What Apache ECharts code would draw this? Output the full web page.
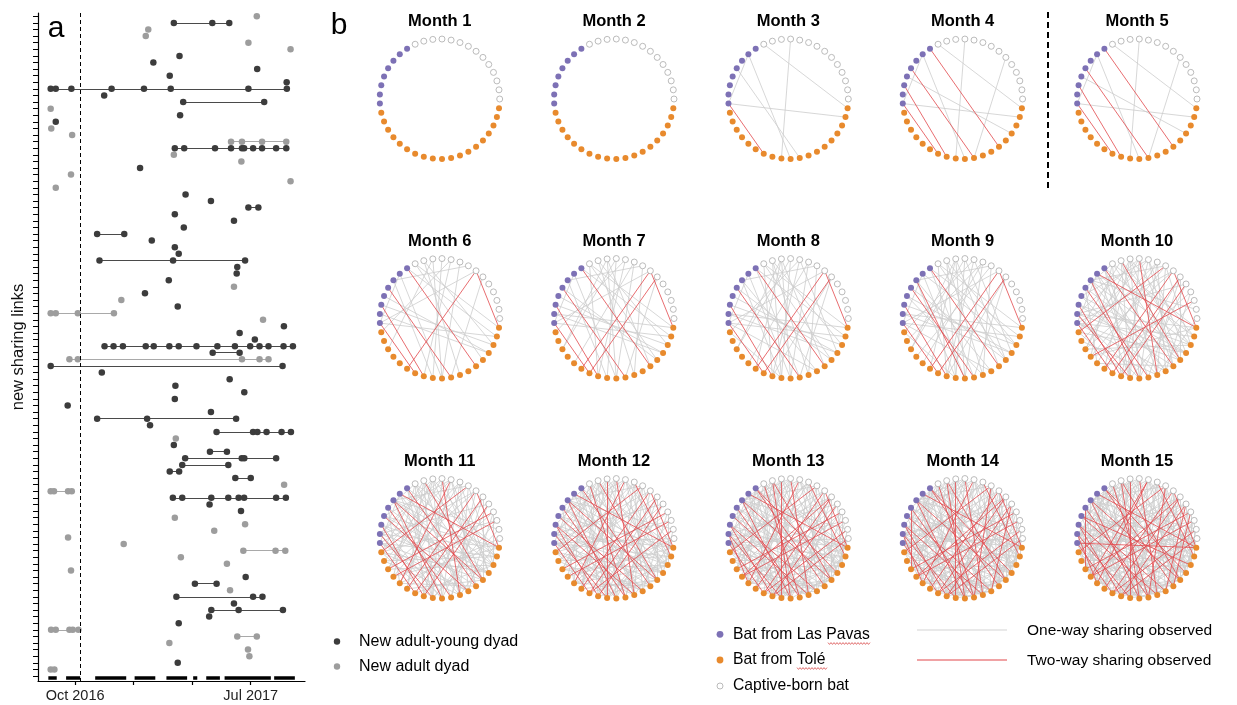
<!DOCTYPE html>
<html><head><meta charset="utf-8">
<script src="https://cdn.jsdelivr.net/npm/echarts@6/dist/echarts.min.js"></script>
<style>html,body{margin:0;padding:0;background:#fff}#c{width:1237px;height:705px}</style>
</head><body><div id="c"></div>
<script>
// ---------------- Panel a data ----------------
// months counted from Jan 2016 (9 = 1 Oct 2016, 18 = 1 Jul 2017)
const dyadType = [
 'A','Y','A','A','A','A','Y','Y','Y','Y',
 'Y','Y','Y','Y','A','Y','Y','A','A','A',
 'Y','A','A','Y','A','A','A','Y','Y','Y',
 'Y','Y','Y','Y','Y','Y','Y','Y','Y','Y',
 'Y','A','Y','A','Y','A','A','Y','Y','Y',
 'Y','Y','A','Y','Y','Y','Y','Y','Y','Y',
 'Y','Y','Y','Y','A','Y','Y','Y','Y','Y',
 'Y','A','A','Y','Y','Y','A','A','A','A',
 'A','A','A','A','A','Y','Y','A','Y','Y',
 'Y','Y','Y','A','A','A','A','A','Y','A'
];
const dyadTimes = [
 [18.31],[14.06,16.03,16.90],[12.75],[12.62],[17.88],[20.04],[14.35],[13.01],[18.33],[13.85],
 [19.84],[7.75,8.01,8.81,10.87,12.53,13.90,17.88,19.85],[10.49],[14.54,18.69],[7.75],[14.38],[8.01],[7.78],[8.85],[16.99,17.55,18.58,19.82],
 [14.11,14.59,16.17,16.99,17.55,17.66,18.12,18.58,19.30,19.82],[14.06],[17.52],[12.33],[8.79],[20.04],[8.01],[14.66],[15.96],[17.88,18.39],
 [14.11],[17.14],[14.57],[10.13,11.52],[12.93],[14.11],[14.31],[10.25,14.02,17.71],[17.31],[17.28],
 [13.80],[17.14],[12.58],[11.37],[14.26],[7.75,8.01,9.14,10.99],[18.63],[19.70],[17.43],[18.21],
 [10.51,10.97,11.45,12.62,13.03,13.83,14.31,15.22,16.29,17.19,17.97,18.45,18.91,19.68,20.16],[16.05,17.43],[8.71,9.14,17.55,18.45,18.91],[7.75,19.63],[10.37],[16.92],[14.14],[17.67],[14.11],[8.62],
 [15.96],[10.13,12.69,17.25],[12.84],[16.25,18.12,18.34,18.81,19.58,20.06],[14.16],[14.06],[15.91,16.78],[14.64,17.54,17.67,19.30],[14.49,16.85],[13.85,14.33],
 [17.21,18.00],[19.71],[7.75,7.92,8.64,8.83],[14.01,14.49,15.98,16.85,17.38,17.66,19.30,19.80],[15.89],[17.50],[14.11],[17.71],[16.13],[8.64],
 [11.49],[17.62,19.27,19.77],[14.42],[16.78],[8.79],[17.74],[15.14,16.25],[16.94],[14.19,18.12,18.60],[17.14],
 [15.98,17.38,19.65],[15.87],[14.31],[7.77,8.01,8.71,8.88,9.17],[17.31,18.31],[13.83],[17.86],[17.93],[14.26],[7.75,7.94]
];
const samplingStart = [7.63, 8.54, 10.03, 12.05, 13.68, 15.05, 15.72, 16.66, 19.20];
const samplingEnd   = [8.06, 9.26, 11.62, 13.11, 14.74, 15.26, 16.42, 19.03, 20.26];
const introMonth = 9.26;
const xTickValues = [9, 12, 15, 18];
const xLabelValues = [9, 18];
const xLabelTexts = ['Oct 2016', 'Jul 2017'];

// ---------------- Panel b data ----------------
const monthTitles = ['Month 1','Month 2','Month 3','Month 4','Month 5','Month 6','Month 7','Month 8','Month 9','Month 10','Month 11','Month 12','Month 13','Month 14','Month 15'];
const nodeGroup = [
 'captive','captive','captive','captive','captive','captive','captive','captive','captive','captive','captive','captive','captive','captive',
 'pavas','pavas','pavas','pavas','pavas','pavas','pavas','pavas',
 'tole','tole','tole','tole','tole','tole','tole','tole','tole','tole','tole','tole','tole','tole','tole','tole','tole','tole','tole'
];
// edges that first appear in each month (cumulative); red = two-way
const newGrayEdges = [
 [],
 [],
 [[13,40],[10,30],[15,21],[15,31],[17,32],[21,39]],
 [[5,32],[18,37]],
 [],
 [[12,38],[11,31],[9,29],[8,31],[7,16],[6,21],[13,36],[14,39],[16,30],[20,37],[12,33],[19,38],[9,22],[11,24]],
 [[11,35],[8,26],[13,29],[10,24],[7,33],[20,40],[17,36]],
 [[12,30],[9,37],[16,34],[22,30],[11,27],[5,29],[21,34],[14,32]],
 [[7,25],[10,36],[15,38],[8,23],[18,33]],
 [[4,20],[3,27],[2,30],[1,16],[0,33],[12,22],[13,25],[9,35],[8,34],[7,38],[6,24],[5,36],[4,31],[3,34],[11,39],[10,20],[14,30],[15,34],[16,37],[17,26],[19,35],[20,31],[21,36],[22,37],[23,33],[25,40],[26,35],[24,38],[13,17],[9,18]],
 [[1,30],[2,22],[3,38],[0,26],[6,32],[8,37],[12,27],[13,33],[16,39],[18,40],[19,31],[22,34],[23,39],[27,36],[28,38],[11,20]],
 [[0,21],[1,37],[4,26],[5,23],[7,30],[9,40],[10,27],[14,26],[17,38],[20,33],[24,35],[26,38],[29,36],[30,39],[12,19]],
 [[0,36],[2,35],[3,29],[4,38],[5,21],[6,35],[8,22],[11,28],[14,24],[15,29],[17,30],[21,31],[25,33],[28,34],[31,37],[10,16]],
 [[1,24],[2,39],[3,20],[6,37],[7,35],[9,31],[13,21],[15,27],[18,28],[22,26],[27,32],[30,34]],
 [[0,18],[2,32],[4,23],[8,30],[12,40],[16,25],[19,27],[21,25]]
];
const newRedEdges = [
 [], [],
 [[21,28]],
 [[14,35],[17,32],[19,29]],
 [],
 [[6,27],[6,40]],
 [[5,28]],
 [],
 [[16,31]],
 [[2,25],[4,29],[10,33],[12,36],[20,30],[15,40],[7,22]],
 [[3,24],[9,26],[16,36],[18,34]],
 [[1,28],[8,39],[11,30],[19,33],[13,32]],
 [[0,29],[5,25],[12,31],[14,37],[20,26]],
 [[4,34],[7,32],[17,24]],
 [[3,35],[9,25],[18,38],[21,40]]
];

// ---------------- build ----------------
const FONT = '"Liberation Sans", Arial, Helvetica, sans-serif';
const DARK = '#3c3c3c', LIGHT = '#9d9d9d';
const PURPLE = '#7d71b5', ORANGE = '#e88a2d';
const GRAYEDGE = '#cdcdcd', REDEDGE = '#e2474b';
const ROWS = dyadTimes.length;
const BAR_ROW = 100.2;

const darkPts = [], lightPts = [], darkSegs = [], lightSegs = [];
dyadTimes.forEach((ts, r) => {
  const dark = dyadType[r] === 'Y';
  ts.forEach(t => (dark ? darkPts : lightPts).push([t, r]));
  if (ts.length > 1) (dark ? darkSegs : lightSegs).push({coords: [[Math.min(...ts), r], [Math.max(...ts), r]]});
});
const barSegs = samplingStart.map((s, i) => ({coords: [[s, BAR_ROW], [samplingEnd[i], BAR_ROW]]}));
const yTicks = [];
for (let i = 0; i <= ROWS; i++) yTicks.push(i);

const colX = [439.7, 614, 788.3, 962.6, 1137];
const rowY = [99, 318.5, 538.5];
const titleY = [21, 241, 461];
const catIndex = {captive: 0, pavas: 1, tole: 2};
const key = (a, b) => a < b ? a + '-' + b : b + '-' + a;

const polar = [], angleAxis = [], radiusAxis = [], netSeries = [], graphic = [];
const gray = new Set(), red = new Set();
for (let m = 0; m < 15; m++) {
  newGrayEdges[m].forEach(([a, b]) => gray.add(key(a, b)));
  newRedEdges[m].forEach(([a, b]) => red.add(key(a, b)));
  const cx = colX[m % 5], cy = rowY[Math.floor(m / 5)];
  polar.push({center: [cx, cy], radius: 60});
  angleAxis.push({polarIndex: m, type: 'value', min: 0, max: nodeGroup.length, startAngle: 0, clockwise: false, show: false});
  radiusAxis.push({polarIndex: m, type: 'value', min: 0, max: 1, show: false});
  const links = [];
  gray.forEach(k => { if (!red.has(k)) { const [a, b] = k.split('-').map(Number); links.push({source: a, target: b, lineStyle: {color: GRAYEDGE}}); } });
  red.forEach(k => { const [a, b] = k.split('-').map(Number); links.push({source: a, target: b, lineStyle: {color: REDEDGE}}); });
  netSeries.push({
    type: 'graph', coordinateSystem: 'polar', polarIndex: m,
    symbol: 'circle', symbolSize: 6, silent: true, animation: false,
    categories: [
      {name: 'Captive-born bat', itemStyle: {color: '#ffffff', borderColor: '#b3b3b3', borderWidth: 0.9}},
      {name: 'Bat from Las Pavas', itemStyle: {color: PURPLE}},
      {name: 'Bat from Tolé', itemStyle: {color: ORANGE}}
    ],
    data: nodeGroup.map((g, k) => ({name: 'n' + k, value: [1, k], category: catIndex[g]})),
    links: links,
    lineStyle: {width: 0.8, opacity: 1, curveness: 0},
    label: {show: false}, emphasis: {disabled: true}
  });
  graphic.push({type: 'text', x: cx, y: titleY[Math.floor(m / 5)], silent: true,
    style: {text: monthTitles[m], fontSize: 16.5, fontWeight: 'bold', fontFamily: FONT, fill: '#000', align: 'center', textAlign: 'center', verticalAlign: 'middle', textVerticalAlign: 'middle'}});
}

function txt(x, y, s, size, extra) {
  return Object.assign({type: 'text', x: x, y: y, silent: true,
    style: {text: s, fontSize: size, fontFamily: FONT, fill: '#000', align: 'left', textAlign: 'left', verticalAlign: 'middle', textVerticalAlign: 'middle'}}, extra || {});
}
function wavy(x1, x2, y) {
  const pts = [];
  let up = true;
  for (let x = x1; x <= x2; x += 1.5) { pts.push([x, y + (up ? -0.9 : 0.9)]); up = !up; }
  return {type: 'polyline', silent: true, shape: {points: pts}, style: {stroke: '#d94a4a', lineWidth: 0.8, fill: null}};
}
graphic.push(
  {type: 'text', x: 56, y: 29, silent: true, style: {text: 'a', fontSize: 30, fontFamily: FONT, fill: '#000', align: 'center', textAlign: 'center', verticalAlign: 'middle', textVerticalAlign: 'middle'}},
  {type: 'text', x: 339, y: 26, silent: true, style: {text: 'b', fontSize: 30, fontFamily: FONT, fill: '#000', align: 'center', textAlign: 'center', verticalAlign: 'middle', textVerticalAlign: 'middle'}},
  {type: 'line', silent: true, shape: {x1: 1048, y1: 12, x2: 1048, y2: 188}, style: {stroke: '#000', lineWidth: 2, lineDash: [6, 4]}},
  // panel a legend
  {type: 'circle', silent: true, shape: {cx: 337, cy: 641.5, r: 3.2}, style: {fill: DARK}},
  txt(359, 641.5, 'New adult-young dyad', 16),
  {type: 'circle', silent: true, shape: {cx: 337, cy: 666.5, r: 3.2}, style: {fill: LIGHT}},
  txt(359, 666.5, 'New adult dyad', 16),
  // panel b legend
  {type: 'circle', silent: true, shape: {cx: 720, cy: 634.3, r: 3.4}, style: {fill: PURPLE}},
  txt(733, 634.3, 'Bat from Las Pavas', 15.7),
  {type: 'circle', silent: true, shape: {cx: 720, cy: 660, r: 3.4}, style: {fill: ORANGE}},
  txt(733, 660, 'Bat from Tolé', 15.7),
  {type: 'circle', silent: true, shape: {cx: 720, cy: 686, r: 3}, style: {fill: '#fff', stroke: '#b3b3b3', lineWidth: 0.9}},
  txt(733, 686, 'Captive-born bat', 15.7),
  wavy(828, 871, 643.5),
  wavy(797, 828, 668.5),
  {type: 'line', silent: true, shape: {x1: 917, y1: 630, x2: 1007, y2: 630}, style: {stroke: '#d3d3d3', lineWidth: 1.2}},
  {type: 'line', silent: true, shape: {x1: 917, y1: 660, x2: 1007, y2: 660}, style: {stroke: '#e2474b', lineWidth: 1.2}},
  txt(1027, 630.5, 'One-way sharing observed', 15.5),
  txt(1027, 660.5, 'Two-way sharing observed', 15.5)
);

const option = {
  backgroundColor: '#fff',
  animation: false,
  textStyle: {fontFamily: FONT},
  grid: [{left: 38, top: 13, width: 267, height: 668, outerBoundsMode: 'none', containLabel: false}],
  xAxis: [{
    gridIndex: 0, type: 'value', min: 7.1, max: 20.78, position: 'bottom',
    splitLine: {show: false},
    axisLine: {onZero: false, lineStyle: {color: '#000', width: 1.2}},
    axisTick: {customValues: xTickValues, length: 4, lineStyle: {color: '#000', width: 1.2}},
    axisLabel: {customValues: xLabelValues, margin: 7, fontSize: 14.5, color: '#222', fontFamily: FONT,
      formatter: v => xLabelTexts[xLabelValues.indexOf(v)] || ''}
  }],
  yAxis: [{
    gridIndex: 0, type: 'value', inverse: true, min: -0.5, max: 100.76, position: 'left',
    name: 'new sharing links', nameLocation: 'middle', nameGap: 11, nameRotate: 90,
    nameTextStyle: {fontSize: 16.5, color: '#111', fontFamily: FONT},
    splitLine: {show: false},
    axisLine: {onZero: false, lineStyle: {color: '#000', width: 1.2}},
    axisTick: {customValues: yTicks, length: 5, lineStyle: {color: '#000', width: 1}},
    axisLabel: {show: false}
  }],
  polar: polar, angleAxis: angleAxis, radiusAxis: radiusAxis,
  graphic: graphic,
  series: [
    {type: 'lines', coordinateSystem: 'cartesian2d', xAxisIndex: 0, yAxisIndex: 0, silent: true,
      data: lightSegs, lineStyle: {color: '#a9a9a9', width: 1.1, opacity: 1}, symbol: 'none'},
    {type: 'lines', coordinateSystem: 'cartesian2d', xAxisIndex: 0, yAxisIndex: 0, silent: true,
      data: darkSegs, lineStyle: {color: '#4a4a4a', width: 1.1, opacity: 1}, symbol: 'none'},
    {type: 'lines', coordinateSystem: 'cartesian2d', xAxisIndex: 0, yAxisIndex: 0, silent: true,
      data: barSegs, lineStyle: {color: '#000', width: 3.5, opacity: 1, cap: 'butt'}, symbol: 'none'},
    {type: 'scatter', name: 'New adult dyad', xAxisIndex: 0, yAxisIndex: 0, data: lightPts, symbolSize: 6.5,
      itemStyle: {color: LIGHT, opacity: 1}, silent: true},
    {type: 'scatter', name: 'New adult-young dyad', xAxisIndex: 0, yAxisIndex: 0, data: darkPts, symbolSize: 6.5,
      itemStyle: {color: DARK, opacity: 1}, silent: true,
      markLine: {silent: true, symbol: 'none', label: {show: false}, animation: false,
        lineStyle: {type: [4, 3], color: '#000', width: 1}, data: [{xAxis: introMonth}]}}
  ].concat(netSeries)
};
const chart = echarts.init(document.getElementById('c'), null, {renderer: 'canvas', width: 1237, height: 705});
chart.setOption(option);
</script>
</body></html>
